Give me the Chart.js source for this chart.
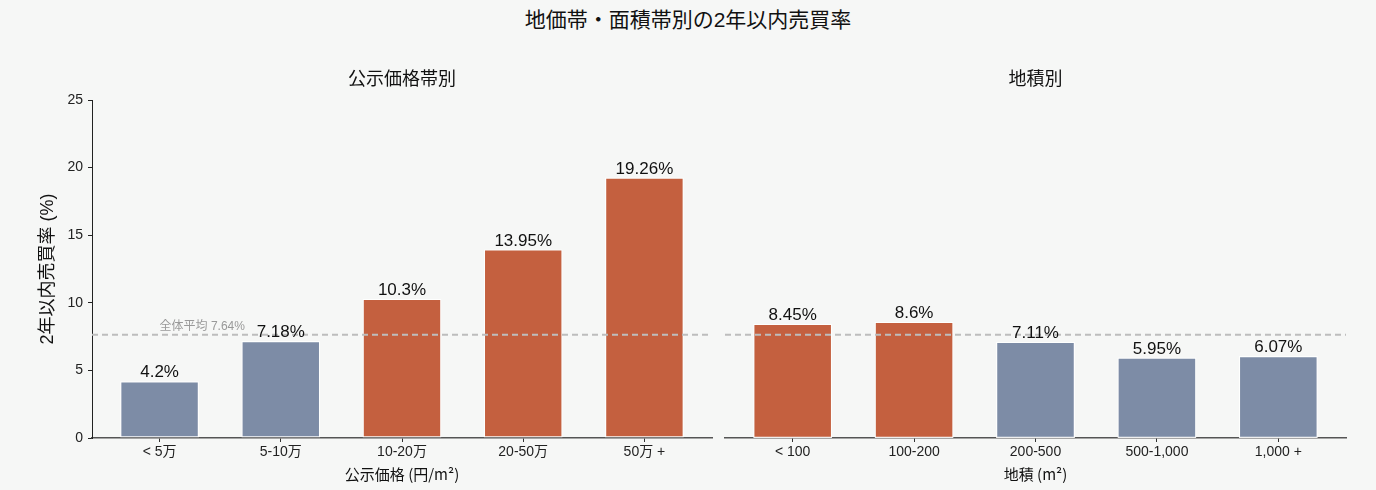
<!DOCTYPE html>
<html lang="ja">
<head>
<meta charset="utf-8">
<script src="https://cdn.jsdelivr.net/npm/chart.js@4.4.1/dist/chart.umd.min.js"></script>
<style>
    html, body {
        margin: 0;
        padding: 0;
        background: #f6f7f6;
        font-family: "Liberation Sans", "Noto Sans CJK JP", sans-serif;
    }
    #main_title {
        position: absolute;
        left: 0;
        top: 7px;
        width: 1376px;
        text-align: center;
        font-size: 21px;
        color: #111;
        line-height: 26px;
    }
    .box {
        position: absolute;
        top: 0;
        height: 490px;
    }
</style>
</head>
<body>
<div id="main_title">地価帯・面積帯別の2年以内売買率</div>
<div class="box" style="left:0; width:718px;"><canvas id="price_chart"></canvas></div>
<div class="box" style="left:718px; width:658px;"><canvas id="area_chart"></canvas></div>

<script>
// データ
const price_labels = ["< 5万", "5-10万", "10-20万", "20-50万", "50万 +"];
const price_rates = [4.2, 7.18, 10.3, 13.95, 19.26];

const area_labels = ["< 100", "100-200", "200-500", "500-1,000", "1,000 +"];
const area_rates = [8.45, 8.6, 7.11, 5.95, 6.07];

const overall_avg = 7.64;
const y_ticks = [0, 5, 10, 15, 20, 25];

const FONT = "'Liberation Sans', 'Noto Sans CJK JP', sans-serif";
const FONT_JP = "'Noto Sans CJK JP', 'Liberation Sans', sans-serif";
const RED = "#c4603f";
const BLUE = "#7d8ca6";

// 平均線・値ラベル
const overlayPlugin = {
    id: "overlay",
    afterDatasetsDraw(chart, args, opts) {
        const ctx = chart.ctx;
        const area = chart.chartArea;
        const y = chart.scales.y.getPixelForValue(overall_avg);

        ctx.save();
        ctx.strokeStyle = "#bdbdbd";
        ctx.lineWidth = 2;
        ctx.setLineDash([6, 4]);
        ctx.beginPath();
        ctx.moveTo(area.left, y);
        ctx.lineTo(area.right, y);
        ctx.stroke();
        ctx.setLineDash([]);

        if (opts.showAvgLabel) {
            ctx.fillStyle = "#999";
            ctx.font = `12px ${FONT}`;
            ctx.textAlign = "left";
            ctx.textBaseline = "bottom";
            ctx.fillText(`全体平均 ${overall_avg}%`, chart.scales.x.getPixelForValue(0), y - 2);
        }

        const meta = chart.getDatasetMeta(0);
        const values = chart.data.datasets[0].data;
        ctx.fillStyle = "#111";
        ctx.font = `17px ${FONT}`;
        ctx.textAlign = "center";
        ctx.textBaseline = "bottom";
        meta.data.forEach((bar, i) => {
            ctx.fillText(`${values[i].y}%`, bar.x, bar.y);
        });
        ctx.restore();
    }
};

function makeChart(canvasId, labels, rates, subtitle, xTitle, showYAxis, padding) {
    return new Chart(document.getElementById(canvasId), {
        type: "bar",
        data: {
            datasets: [{
                data: rates.map((v, i) => ({ x: i, y: v })),
                backgroundColor: rates.map((v) => (v > overall_avg ? RED : BLUE)),
                borderColor: "rgba(255, 255, 255, 0.9)",
                borderWidth: 1.2,
                borderSkipped: false,
                barPercentage: 0.65,
                categoryPercentage: 1.0,
            }]
        },
        options: {
            animation: false,
            responsive: true,
            maintainAspectRatio: false,
            layout: { padding: padding },
            plugins: {
                legend: { display: false },
                tooltip: { enabled: false },
                title: {
                    display: true,
                    text: subtitle,
                    fullSize: false,
                    color: "#111",
                    font: { family: FONT, size: 18, weight: "normal" },
                    padding: { top: 69, bottom: 9.4 },
                },
                overlay: { showAvgLabel: showYAxis },
            },
            scales: {
                x: {
                    type: "linear",
                    offset: false,
                    min: -0.5575,
                    max: labels.length - 1 + 0.5575,
                    afterFit: (scale) => { scale.height = 52; },
                    ticks: {
                        stepSize: 1,
                        includeBounds: false,
                        autoSkip: false,
                        maxRotation: 0,
                        padding: 2,
                        color: "#222",
                        font: { family: FONT, size: 14 },
                        callback: (v) => labels[v] ?? "",
                    },
                    grid: {
                        offset: false,
                        drawOnChartArea: false,
                        tickLength: 4,
                        color: "#333",
                    },
                    border: { color: "#555", width: 1.5 },
                    title: {
                        display: true,
                        text: xTitle,
                        color: "#111",
                        font: { family: FONT_JP, size: 15 },
                        padding: { top: 0, bottom: 7 },
                    },
                },
                y: {
                    display: showYAxis,
                    min: 0,
                    max: 25,
                    afterFit: (scale) => { scale.width = showYAxis ? 92 : 0; },
                    afterBuildTicks: (scale) => {
                        scale.ticks = y_ticks.map((v) => ({ value: v }));
                    },
                    ticks: {
                        padding: 5,
                        color: "#222",
                        font: { family: FONT, size: 14 },
                    },
                    grid: {
                        drawOnChartArea: false,
                        tickLength: 4,
                        color: "#222",
                    },
                    border: { color: "#222", width: 1 },
                    title: {
                        display: true,
                        text: "2年以内売買率 (%)",
                        color: "#111",
                        font: { family: FONT, size: 18 },
                        padding: { top: 37, bottom: 0 },
                    },
                },
            },
        },
        plugins: [overlayPlugin],
    });
}

let price_chart = makeChart("price_chart", price_labels, price_rates,
    "公示価格帯別", "公示価格 (円/m²)", true, { left: 0, right: 6, top: 0, bottom: 0 });

let area_chart = makeChart("area_chart", area_labels, area_rates,
    "地積別", "地積 (m²)", false, { left: 7, right: 30, top: 0, bottom: 0 });
</script>
</body>
</html>
